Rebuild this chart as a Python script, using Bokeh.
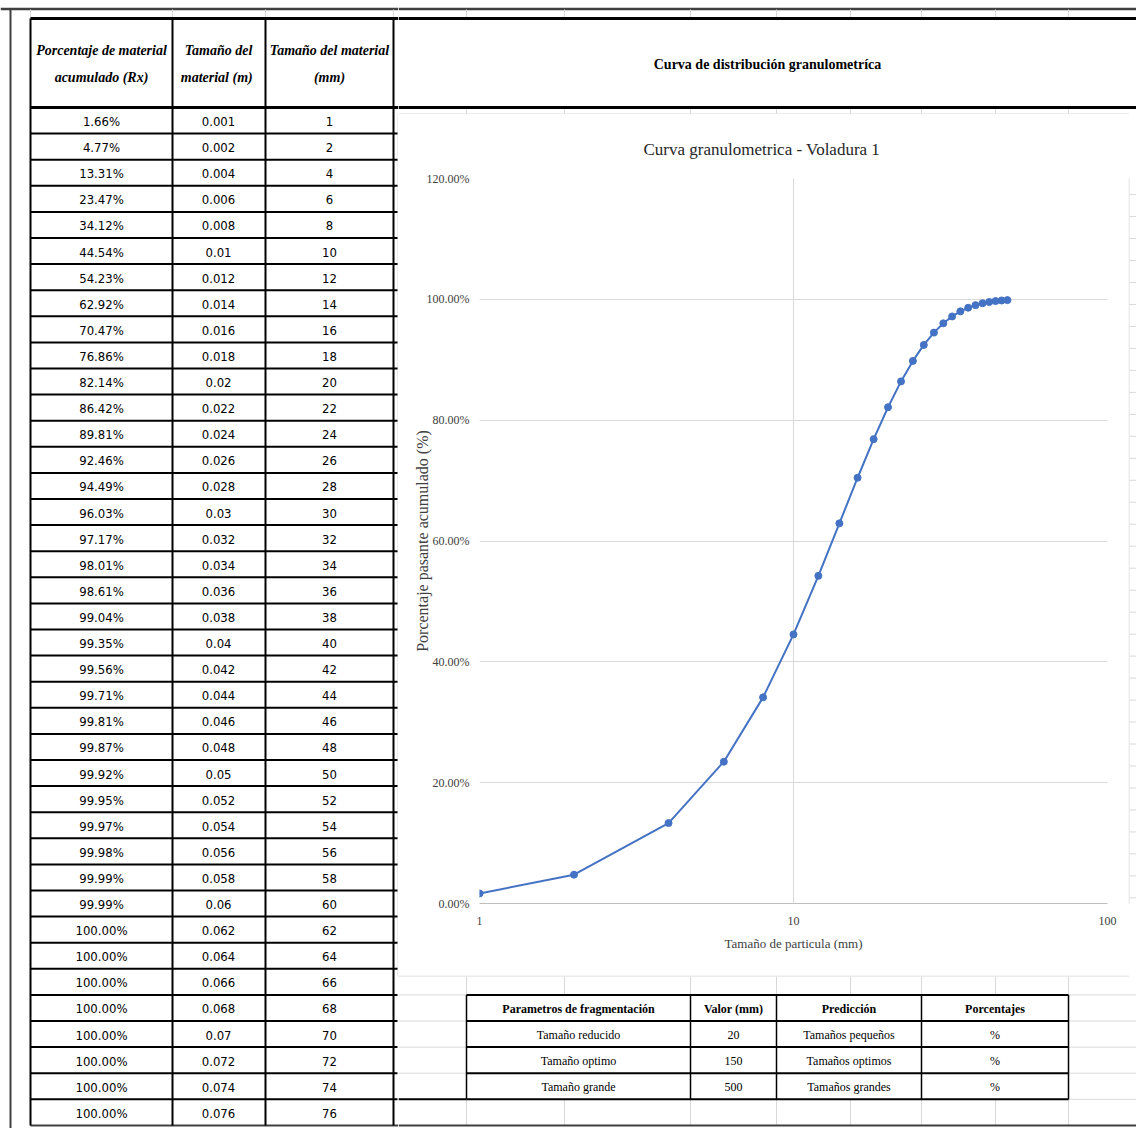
from bokeh.plotting import figure
from bokeh.layouts import row, column
from bokeh.models import Range1d, FixedTicker, NumeralTickFormatter
from bokeh.core.properties import value
from bokeh.embed import file_html
from bokeh.resources import INLINE

# ---------------- data ----------------
pct_acum = [1.66, 4.77, 13.31, 23.47, 34.12, 44.54, 54.23, 62.92, 70.47, 76.86,
            82.14, 86.42, 89.81, 92.46, 94.49, 96.03, 97.17, 98.01, 98.61, 99.04,
            99.35, 99.56, 99.71, 99.81, 99.87, 99.92, 99.95, 99.97, 99.98, 99.99,
            99.99, 100.00, 100.00, 100.00, 100.00, 100.00, 100.00, 100.00, 100.00]
size_m = [0.001, 0.002, 0.004, 0.006, 0.008, 0.01, 0.012, 0.014, 0.016, 0.018,
          0.02, 0.022, 0.024, 0.026, 0.028, 0.03, 0.032, 0.034, 0.036, 0.038,
          0.04, 0.042, 0.044, 0.046, 0.048, 0.05, 0.052, 0.054, 0.056, 0.058,
          0.06, 0.062, 0.064, 0.066, 0.068, 0.07, 0.072, 0.074, 0.076]
size_mm = [1, 2, 4, 6, 8, 10, 12, 14, 16, 18,
           20, 22, 24, 26, 28, 30, 32, 34, 36, 38,
           40, 42, 44, 46, 48, 50, 52, 54, 56, 58,
           60, 62, 64, 66, 68, 70, 72, 74, 76]
CHART_POINTS = 25  # the curve uses rows 1 mm .. 48 mm

header_line1 = ["Porcentaje de material", "Tamaño del", "Tamaño del material"]
header_line2 = ["acumulado (Rx)", "material  (m)", "(mm)"]
sheet_title = "Curva de distribución granulometríca"
chart_title = "Curva granulometrica  - Voladura 1"
x_label = "Tamaño de particula (mm)"
y_label = "Porcentaje pasante acumulado (%)"
y_ticks = [0.0, 0.2, 0.4, 0.6, 0.8, 1.0, 1.2]
x_ticks = [1, 10, 100]

frag_header = ["Parametros de fragmentación", "Valor (mm)", "Predicción", "Porcentajes"]
frag_param = ["Tamaño reducido", "Tamaño optimo", "Tamaño grande"]
frag_value = ["20", "150", "500"]
frag_pred = ["Tamaños pequeños", "Tamaños optimos", "Tamaños grandes"]
frag_pct = ["%", "%", "%"]

# ---------------- layout constants (page pixels) ----------------
W, H = 1136, 1128
LEFT_W = 398
ROW0, ROWH = 107.0, 26.1
row_lines = [ROW0 + ROWH * k for k in range(40)]
tcols = [30, 172, 265, 393]
sheet_cols = [466, 564, 690, 776, 850, 921, 995, 1068]
ftab_cols = [466, 690, 776, 921, 1068]
BOX = (397.5, 113.5, 1128.5, 975.5)

SANS_N = value("DejaVu Sans Condensed")
SERIF = value("Liberation Serif")
GRID = "#d9d9d9"
DARK = "#404040"


def pix_fig(x0, y0, w, h):
    f = figure(width=w, height=h, x_range=Range1d(x0, x0 + w), y_range=Range1d(y0 + h, y0),
               x_axis_type=None, y_axis_type=None, output_backend="svg",
               toolbar_location=None, min_border=0, outline_line_color=None)
    f.background_fill_color = "white"
    f.border_fill_color = "white"
    return f


def seg(f, xs0, ys0, xs1, ys1, color, width):
    f.segment(x0=xs0, y0=ys0, x1=xs1, y1=ys1, line_color=color, line_width=width)


# ---------------- left table ----------------
left = pix_fig(0, 0, LEFT_W, H)
seg(left, [0], [8.5], [LEFT_W], [8.5], DARK, 2.5)
seg(left, [10], [8], [10], [H], DARK, 2)
seg(left, tcols, [9] * 4, tcols, [18] * 4, GRID, 1)
seg(left, [BOX[0]], [BOX[1]], [BOX[0]], [BOX[3]], GRID, 1)
seg(left, [tcols[0]] * 38, row_lines[1:39], [397] * 38, row_lines[1:39], "black", 2)
seg(left, [tcols[0], tcols[0]], [18, 107], [LEFT_W, LEFT_W], [18, 107], "black", 3)
seg(left, [tcols[0]], [1125], [LEFT_W], [1125], DARK, 2)
seg(left, tcols, [18] * 4, tcols, [1125] * 4, "black", 2)

hx = [101, 218, 329]
left.text(x=hx, y=[50] * 3, text=header_line1, text_align="center", text_baseline="middle",
          text_font=SERIF, text_font_style="bold italic", text_font_size="14px", text_color="black")
left.text(x=hx, y=[77] * 3, text=header_line2, text_align="center", text_baseline="middle",
          text_font=SERIF, text_font_style="bold italic", text_font_size="14px", text_color="black")

yc = [row_lines[i] + ROWH / 2 + 1 for i in range(len(pct_acum))]
left.text(x=[101] * len(yc), y=yc, text=[f"{v:.2f}%" for v in pct_acum], text_align="center",
          text_baseline="middle", text_font=SANS_N, text_font_size="13px", text_color="black")
left.text(x=[218] * len(yc), y=yc, text=[f"{v:g}" for v in size_m], text_align="center",
          text_baseline="middle", text_font=SANS_N, text_font_size="13px", text_color="black")
left.text(x=[329] * len(yc), y=yc, text=[str(v) for v in size_mm], text_align="center",
          text_baseline="middle", text_font=SANS_N, text_font_size="13px", text_color="black")

# ---------------- header (right top) ----------------
head = pix_fig(LEFT_W, 0, W - LEFT_W, 114)
seg(head, [LEFT_W], [8.5], [W], [8.5], DARK, 2.5)
seg(head, sheet_cols, [9] * 8, sheet_cols, [18] * 8, GRID, 1)
seg(head, sheet_cols, [107] * 8, sheet_cols, [113] * 8, GRID, 1)
seg(head, [LEFT_W, LEFT_W], [18, 107], [W, W], [18, 107], "black", 3)
seg(head, [BOX[0]], [BOX[1]], [BOX[2]], [BOX[1]], GRID, 1)
head.text(x=[767], y=[64], text=[sheet_title], text_align="center", text_baseline="middle",
          text_font=SERIF, text_font_style="bold", text_font_size="14px", text_color="black")

# ---------------- chart ----------------
chart = figure(width=730, height=861, x_axis_type="log", x_range=Range1d(1, 100),
               y_range=Range1d(0, 1.2), output_backend="svg", toolbar_location=None,
               min_border_left=81, min_border_right=21, min_border_top=64, min_border_bottom=72,
               title=chart_title)
chart.background_fill_color = "white"
chart.border_fill_color = "white"
chart.outline_line_color = None
chart.title.align = "left"
chart.title.offset = 164
chart.title.standoff = 40
chart.title.text_font = "Liberation Serif"
chart.title.text_font_style = "normal"
chart.title.text_font_size = "17px"
chart.title.text_color = "#262626"

chart.xaxis.ticker = FixedTicker(ticks=x_ticks, minor_ticks=[])
chart.xaxis.formatter = NumeralTickFormatter(format="0")
chart.yaxis.ticker = FixedTicker(ticks=y_ticks, minor_ticks=[])
chart.yaxis.formatter = NumeralTickFormatter(format="0.00%")
for ax in (chart.xaxis[0], chart.yaxis[0]):
    ax.major_tick_in = 0
    ax.major_tick_out = 0
    ax.minor_tick_in = 0
    ax.minor_tick_out = 0
    ax.major_label_text_font = "Liberation Serif"
    ax.major_label_text_font_size = "12px"
    ax.major_label_text_color = "#404040"
    ax.axis_label_text_font = "Liberation Serif"
    ax.axis_label_text_font_style = "normal"
    ax.axis_label_text_color = "#404040"
chart.xaxis.axis_label = x_label
chart.xaxis.axis_label_text_font_size = "13px"
chart.xaxis.major_label_standoff = 13
chart.xaxis.axis_label_standoff = 8
chart.xaxis.axis_line_color = "#bfbfbf"
chart.yaxis.axis_label = y_label
chart.yaxis.axis_label_text_font_size = "16px"
chart.yaxis.major_label_standoff = 10
chart.yaxis.axis_label_standoff = -7
chart.yaxis.axis_line_color = None
chart.xgrid.grid_line_color = GRID
chart.ygrid.grid_line_color = GRID

xs = size_mm[:CHART_POINTS]
ys = [v / 100 for v in pct_acum[:CHART_POINTS]]
chart.line(xs, ys, line_color="#4472C4", line_width=2)
chart.scatter(xs, ys, size=7, fill_color="#4472C4", line_color="#4472C4")

# right strip beside the chart
strip = pix_fig(1128, 114, 8, 861)
seg(strip, [BOX[2]], [BOX[1]], [BOX[2]], [BOX[3]], GRID, 1)
rl = [y for y in row_lines if 114 < y < 975]
seg(strip, [1129] * len(rl), rl, [W] * len(rl), rl, GRID, 1)

# ---------------- bottom (fragmentation table) ----------------
bot = pix_fig(LEFT_W, 975, W - LEFT_W, H - 975)
seg(bot, [BOX[0]], [BOX[3]], [BOX[2]], [BOX[3]], GRID, 1)
brl = [y for y in row_lines if 976 < y < H]
seg(bot, [LEFT_W] * len(brl), brl, [W] * len(brl), brl, GRID, 1)
seg(bot, sheet_cols, [976] * 8, sheet_cols, [1125] * 8, GRID, 1)
t_top, t_bot = row_lines[34], row_lines[38]
bot.quad(left=[ftab_cols[0]], right=[ftab_cols[-1]], top=[t_top], bottom=[t_bot],
         fill_color="white", line_color=None)
tr = row_lines[34:39]
seg(bot, [ftab_cols[0]] * 5, tr, [ftab_cols[-1]] * 5, tr, "black", 2)
seg(bot, [LEFT_W], [t_bot], [ftab_cols[0]], [t_bot], "black", 2)
seg(bot, ftab_cols, [t_top] * 5, ftab_cols, [t_bot] * 5, "black", 1.5)
seg(bot, [LEFT_W], [1125], [W], [1125], DARK, 2)
fx = [(ftab_cols[i] + ftab_cols[i + 1]) / 2 for i in range(4)]
bot.text(x=fx, y=[row_lines[34] + ROWH / 2 + 1] * 4, text=frag_header, text_align="center",
         text_baseline="middle", text_font=SERIF, text_font_style="bold",
         text_font_size="12px", text_color="black")
ry = [row_lines[35 + i] + ROWH / 2 + 1 for i in range(3)]
for j, col in enumerate([frag_param, frag_value, frag_pred, frag_pct]):
    bot.text(x=[fx[j]] * 3, y=ry, text=col, text_align="center", text_baseline="middle",
             text_font=SERIF, text_font_size="12px", text_color="black")

layout = row(left, column(head, row(chart, strip), bot))
open("out.html", "w").write(file_html(layout, INLINE))
